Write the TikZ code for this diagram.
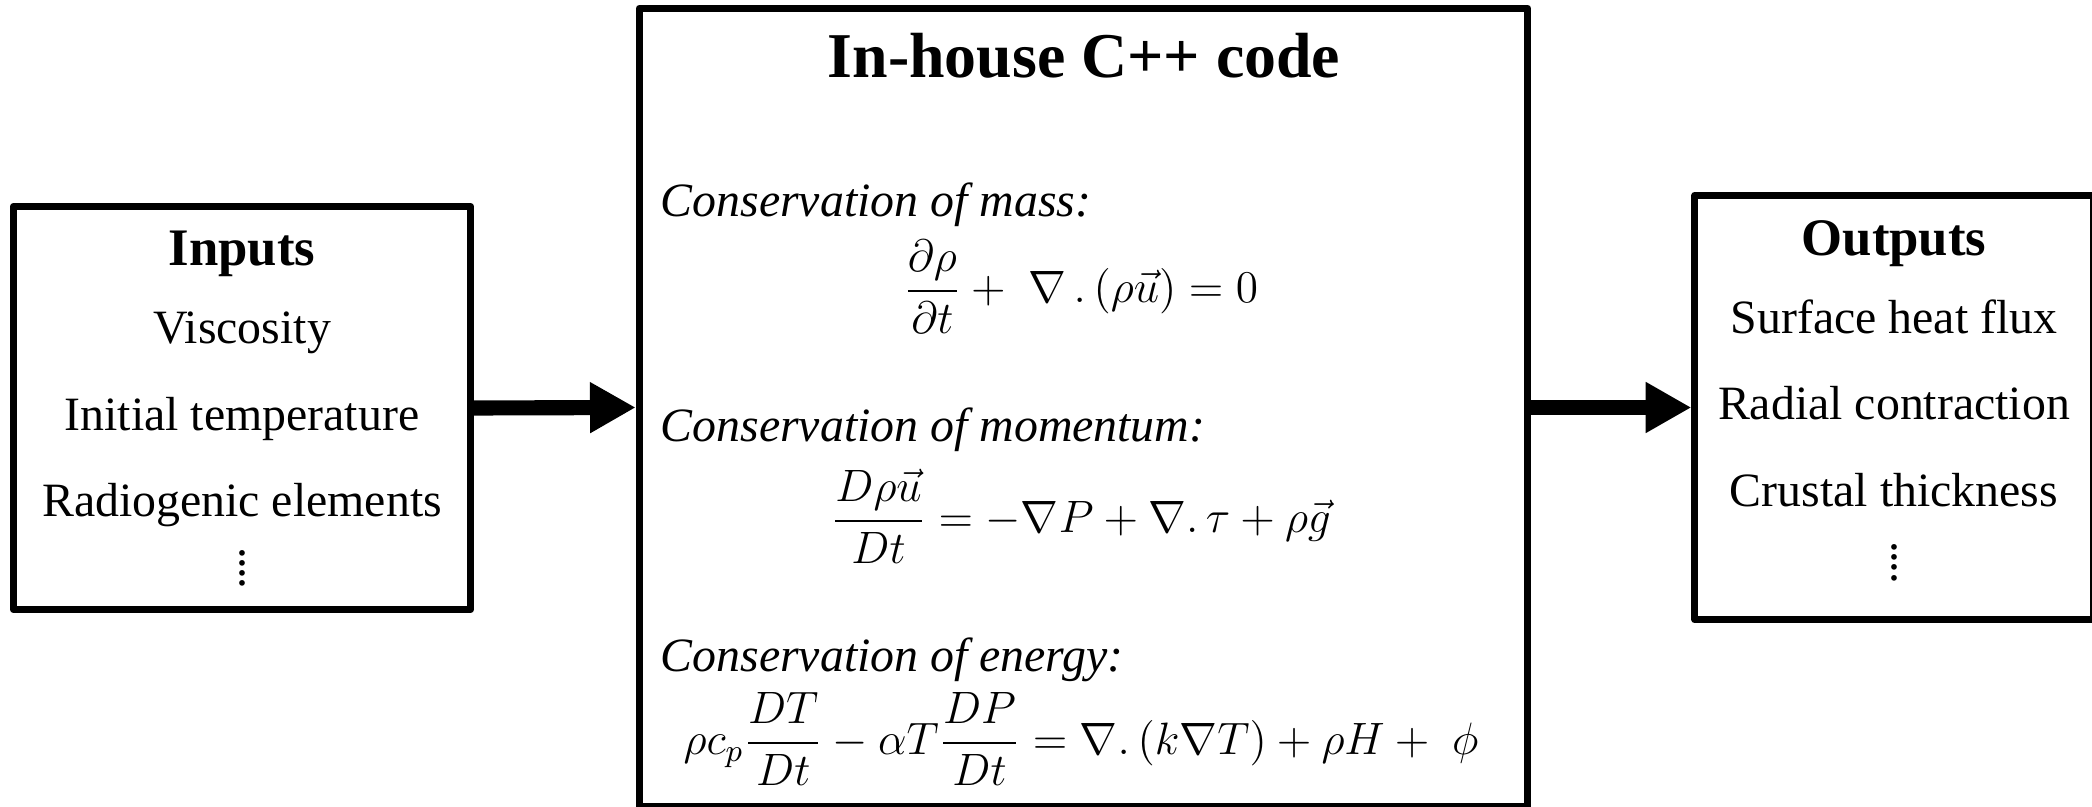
\RequirePackage{fix-cm}
\documentclass[tikz,border=0pt]{standalone}
\usepackage{fontspec}
\setmainfont{Liberation Serif}
\usetikzlibrary{arrows.meta}

\begin{document}
\begin{tikzpicture}[x=0.01cm,y=-0.01cm,
 box/.style={draw,line width=2pt,line join=round,inner sep=0pt},
 head/.style={font=\bfseries\fontsize{15}{18}\selectfont,anchor=base,inner sep=0pt},
 item/.style={font=\fontsize{13.6}{16}\selectfont,anchor=base,inner sep=0pt},
 law/.style={font=\itshape\fontsize{13.6}{16}\selectfont,anchor=base west,inner sep=0pt},
 eqn/.style={font=\fontsize{12.9}{16}\selectfont,anchor=base,inner sep=0pt},
 more/.style={font=\fontsize{13.6}{2.9}\selectfont,align=center,inner sep=0pt},
 flow/.style={line width=4.3pt,-{Triangle[length=13pt,width=13.6pt]}}]
\useasboundingbox (0,0) rectangle (2092,807);
\node[box,minimum width=4.57cm,minimum height=4.03cm] (inbox) at (242,408) {};
\node[box,minimum width=8.88cm,minimum height=7.98cm] (code) at (1083.5,407.5) {};
\node[box,minimum width=3.985cm,minimum height=4.24cm] (outbox) at (1894.25,407.5) {};
\node[head] (intitle) at (242,266) {Inputs};
\node[item] (visc) at (242,344) {Viscosity};
\node[item] (tinit) at (242,431) {Initial temperature};
\node[item] (radio) at (242,516) {Radiogenic elements};
\node[more] (indots) at (242,568.5) {.\\.\\.\\.};
\node[head,font=\bfseries\fontsize{18.15}{22}\selectfont] (codetitle) at (1084,78) {In-house C++ code};
\node[law] (masslbl) at (660,217) {Conservation of mass:};
\node[eqn] (masseq) at (1081,302.5) {$\displaystyle\frac{\partial\rho}{\partial t}+\;\nabla\,.\,(\rho\vec{u})=0$};
\node[law] (momlbl) at (660,442) {Conservation of momentum:};
\node[eqn] (momeq) at (1081,532.5) {$\displaystyle\frac{D\rho\vec{u}}{Dt}=-\nabla P+\nabla.\,\tau+\rho\vec{g}$};
\node[law] (enlbl) at (660,671) {Conservation of energy:};
\node[eqn] (eneq) at (1081,754.5) {$\displaystyle\rho c_p\frac{DT}{Dt}-\alpha T\frac{DP}{Dt}=\nabla.\,(k\nabla T)+\rho H+\;\phi$};
\node[head] (outtitle) at (1894,256) {Outputs};
\node[item] (flux) at (1894,334) {Surface heat flux};
\node[item] (contr) at (1894,420) {Radial contraction};
\node[item] (crust) at (1894,506) {Crustal thickness};
\node[more,font=\fontsize{13.6}{2.95}\selectfont] (outdots) at (1894,562.5) {.\\.\\.\\.};
\draw[flow] (inbox.east) -- (code.west);
\draw[flow] (code.east) -- (outbox.west);
\end{tikzpicture}
\end{document}
